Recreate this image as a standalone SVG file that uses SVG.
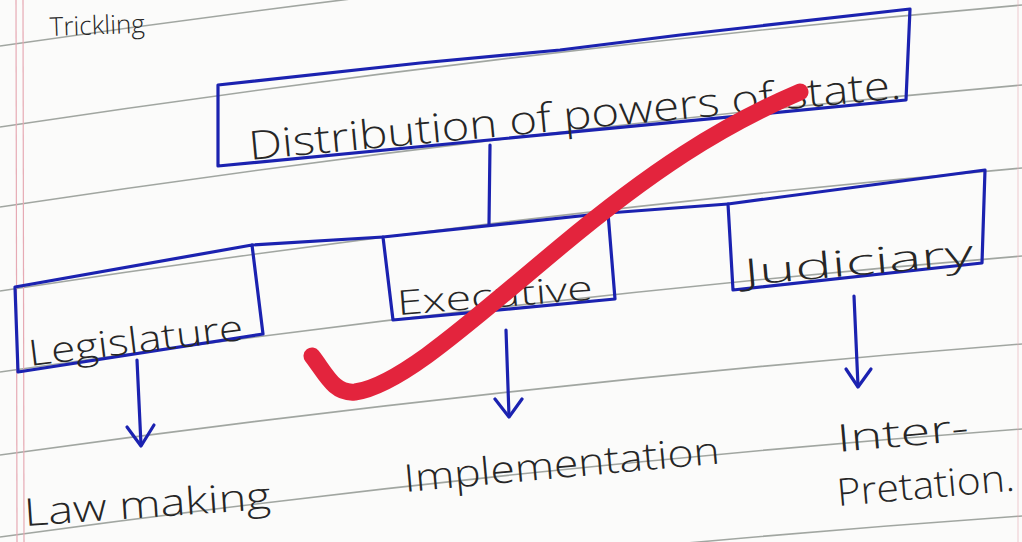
<svg xmlns="http://www.w3.org/2000/svg" width="1022" height="542" viewBox="0 0 1022 542">
<style>
.paper{fill:#fbfbfa}
.rule{fill:none;stroke:#8b918b;stroke-width:1.6;opacity:.8}
.margin{fill:none;stroke:#e6aab4;stroke-width:1.2}
.ink{fill:none;stroke:#1b22b0;stroke-width:3.2;stroke-linejoin:round;stroke-linecap:round}
.hand{font-family:"Open Sans","DejaVu Sans",sans-serif;font-weight:300;fill:#262626}
.check{fill:none;stroke:#e3243d;stroke-width:17;stroke-linecap:round;stroke-linejoin:round}
</style>
<rect class="paper" x="0" y="0" width="1022" height="542"/>
<g id="ruled-lines">
<path class="rule" d="M0,46 Q511,-28 1022,-70"/>
<path class="rule" d="M0,127 Q511,50 1022,5"/>
<path class="rule" d="M0,207 Q511,130 1022,85"/>
<path class="rule" d="M0,291 Q511,213 1022,168"/>
<path class="rule" d="M0,372 Q511,298 1022,256"/>
<path class="rule" d="M0,455 Q511,384 1022,344"/>
<path class="rule" d="M0,537 Q511,467 1022,429"/>
<path class="rule" d="M0,620 Q511,552 1022,516"/>
<line class="margin" x1="16" y1="0" x2="17" y2="542"/>
<line class="margin" x1="23" y1="0" x2="24" y2="542"/>
<line class="margin" x1="1018" y1="0" x2="1018" y2="542" opacity=".5"/>
</g>
<text class="hand" x="50" y="36" font-size="26" transform="rotate(-2 50 36)">Trickling</text>
<g id="node-root">
<path class="ink" d="M218,85 L420,63 L560,50 L680,35 L910,9 L906,100 L218,166 Z"/>
<text class="hand" x="250" y="160" font-size="40" textLength="655" lengthAdjust="spacingAndGlyphs" transform="rotate(-5.4 250 160)">Distribution of powers of state.</text>
</g>
<g id="node-legislature">
<path class="ink" d="M15,287 L252,245 L263,334 L18,372 Z"/>
<text class="hand" x="30" y="366" font-size="36" textLength="216" lengthAdjust="spacingAndGlyphs" transform="rotate(-7 30 366)">Legislature</text>
</g>
<g id="node-executive">
<path class="ink" d="M383,237 L608,213 L615,299 L393,320 Z"/>
<text class="hand" x="398" y="315" font-size="34" textLength="196" lengthAdjust="spacingAndGlyphs" transform="rotate(-4.5 398 315)">Executive</text>
</g>
<g id="node-judiciary">
<path class="ink" d="M728,204 L985,170 L982,263 L733,290 Z"/>
<text class="hand" x="745" y="285" font-size="36" textLength="230" lengthAdjust="spacingAndGlyphs" transform="rotate(-5 745 285)">Judiciary</text>
</g>
<g id="node-law-making">
<text class="hand" x="25" y="526" font-size="38" textLength="247" lengthAdjust="spacingAndGlyphs" transform="rotate(-4 25 526)">Law making</text>
</g>
<g id="node-implementation">
<text class="hand" x="405" y="492" font-size="38" textLength="317" lengthAdjust="spacingAndGlyphs" transform="rotate(-5.2 405 492)">Implementation</text>
</g>
<g id="node-interpretation">
<text class="hand" x="838" y="452" font-size="38" textLength="132" lengthAdjust="spacingAndGlyphs" transform="rotate(-5 838 452)">Inter-</text>
<text class="hand" x="838" y="506" font-size="38" textLength="178" lengthAdjust="spacingAndGlyphs" transform="rotate(-5 838 506)">Pretation.</text>
</g>
<g id="connectors">
<path class="ink" d="M490,145 L489,224"/>
<path class="ink" d="M252,245 L383,237"/>
<path class="ink" d="M608,213 L728,204"/>
<path class="ink" d="M137,360 L141,445"/>
<path class="ink" d="M127,427 L141,446 L154,425"/>
<path class="ink" d="M506,330 L509,416"/>
<path class="ink" d="M495,399 L509,417 L522,399"/>
<path class="ink" d="M854,296 L858,386"/>
<path class="ink" d="M846,369 L858,387 L871,369"/>
</g>
<path class="check" d="M312,356 C326,374 334,394 355,392 C400,386 470,322 560,247 C650,172 720,126 800,92"/>
</svg>
